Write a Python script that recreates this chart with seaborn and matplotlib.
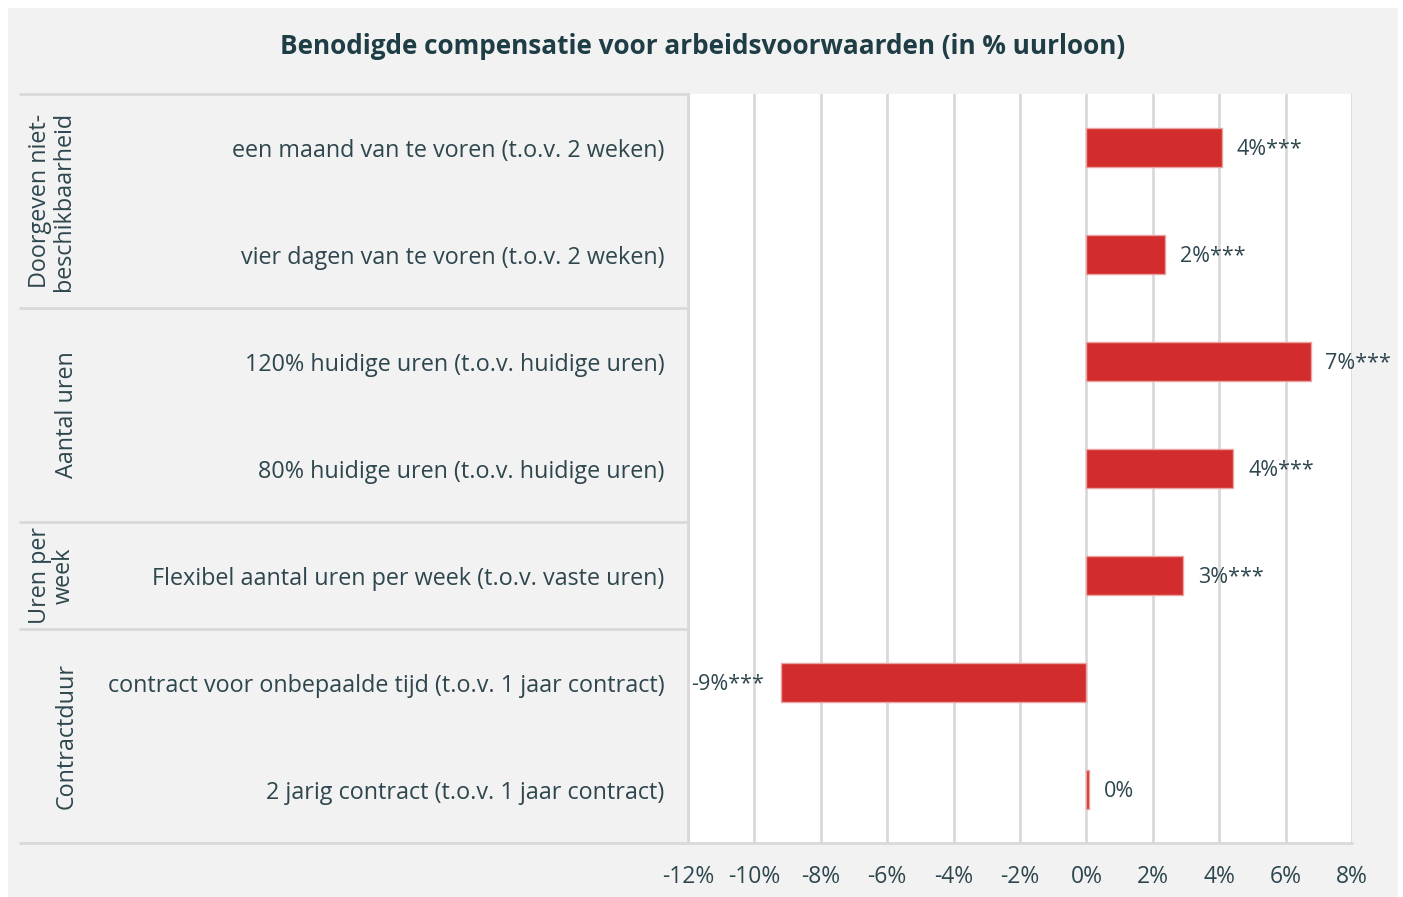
import seaborn as sns
import matplotlib.pyplot as plt
import pandas as pd
from matplotlib.patches import Rectangle

# data
items = ['een maand van te voren (t.o.v. 2 weken)',
         'vier dagen van te voren (t.o.v. 2 weken)',
         '120% huidige uren (t.o.v. huidige uren)',
         '80% huidige uren (t.o.v. huidige uren)',
         'Flexibel aantal uren per week (t.o.v. vaste uren)',
         'contract voor onbepaalde tijd (t.o.v. 1 jaar contract)',
         '2 jarig contract (t.o.v. 1 jaar contract)']
values = [4.07, 2.38, 6.75, 4.43, 2.9, -9.2, 0.08]
labels = ['4%***', '2%***', '7%***', '4%***', '3%***', '-9%***', '0%']
groups = ['Doorgeven niet-\nbeschikbaarheid', 'Aantal uren', 'Uren per\nweek', 'Contractduur']
group_rows = [(0, 1), (2, 3), (4, 4), (5, 6)]
xticks = [-12, -10, -8, -6, -4, -2, 0, 2, 4, 6, 8]

df = pd.DataFrame({'item': items, 'waarde': values})

sns.set_style('white')
plt.rcParams['font.family'] = ['Open Sans', 'DejaVu Sans']
txt = '#2e464e'
bg = '#f2f2f2'
grid = '#d9d9d9'

W, H = 1403, 897
fig = plt.figure(figsize=(14.03, 8.97), dpi=100, facecolor='white')
fig.patches.append(Rectangle((8 / W, 0), 1390 / W, 1 - 8 / H, transform=fig.transFigure,
                             facecolor=bg, edgecolor='none', zorder=-10))
ax = fig.add_axes([688 / W, 1 - 843 / H, 664 / W, 749 / H])
ax.set_facecolor('white')

sns.barplot(data=df, x='waarde', y='item', orient='h', color='#d22c2c', width=0.36,
            edgecolor='#eba3a3', linewidth=1, saturation=1, ax=ax, zorder=3)

ax.set_xlim(-12, 8)
ax.set_ylim(6.5, -0.5)
ax.set_xticks(xticks)
ax.set_xticklabels([f'{t}%' for t in xticks], fontsize=16.5, color=txt)
ax.tick_params(axis='x', length=0, pad=16)
ax.tick_params(axis='y', length=0, pad=17, labelsize=16.8, labelcolor=txt)
ax.set_xlabel('')
ax.set_ylabel('')
for t in xticks:
    ax.axvline(t, color=grid, lw=2, zorder=1)
for s in ['top', 'right', 'bottom']:
    ax.spines[s].set_visible(False)
ax.spines['left'].set_color(grid)
ax.spines['left'].set_linewidth(2)

# waardelabels
for i, (v, lab) in enumerate(zip(values, labels)):
    if v >= 0:
        ax.text(v + 0.45, i + 0.02, lab, ha='left', va='center', fontsize=15.5, color=txt)
    else:
        ax.text(v - 0.5, i + 0.02, lab, ha='right', va='center', fontsize=15.5, color=txt)

# groepslijnen
x0 = (20 - 688) / 664
for b in [-0.5, 1.5, 3.5, 4.5]:
    ax.plot([x0, 0], [b, b], transform=ax.get_yaxis_transform(), color=grid, lw=2, clip_on=False)
ax.plot([x0, 1], [6.5, 6.5], transform=ax.get_yaxis_transform(), color=grid, lw=2, clip_on=False)

for g, (a, b) in zip(groups, group_rows):
    xpos = (52 - 688) / 664 if '\n' in g else (67 - 688) / 664
    ax.text(xpos, (a + b) / 2, g, rotation=90, ha='center', va='center', multialignment='center',
            fontsize=16.8, color=txt, transform=ax.get_yaxis_transform(), linespacing=0.95)

fig.text(703 / W, 1 - 46 / H, 'Benodigde compensatie voor arbeidsvoorwaarden (in % uurloon)',
         ha='center', va='center', fontsize=18.8, fontweight='bold', color='#1f3d45')

fig.savefig('out.png', dpi=100, facecolor=fig.get_facecolor())
